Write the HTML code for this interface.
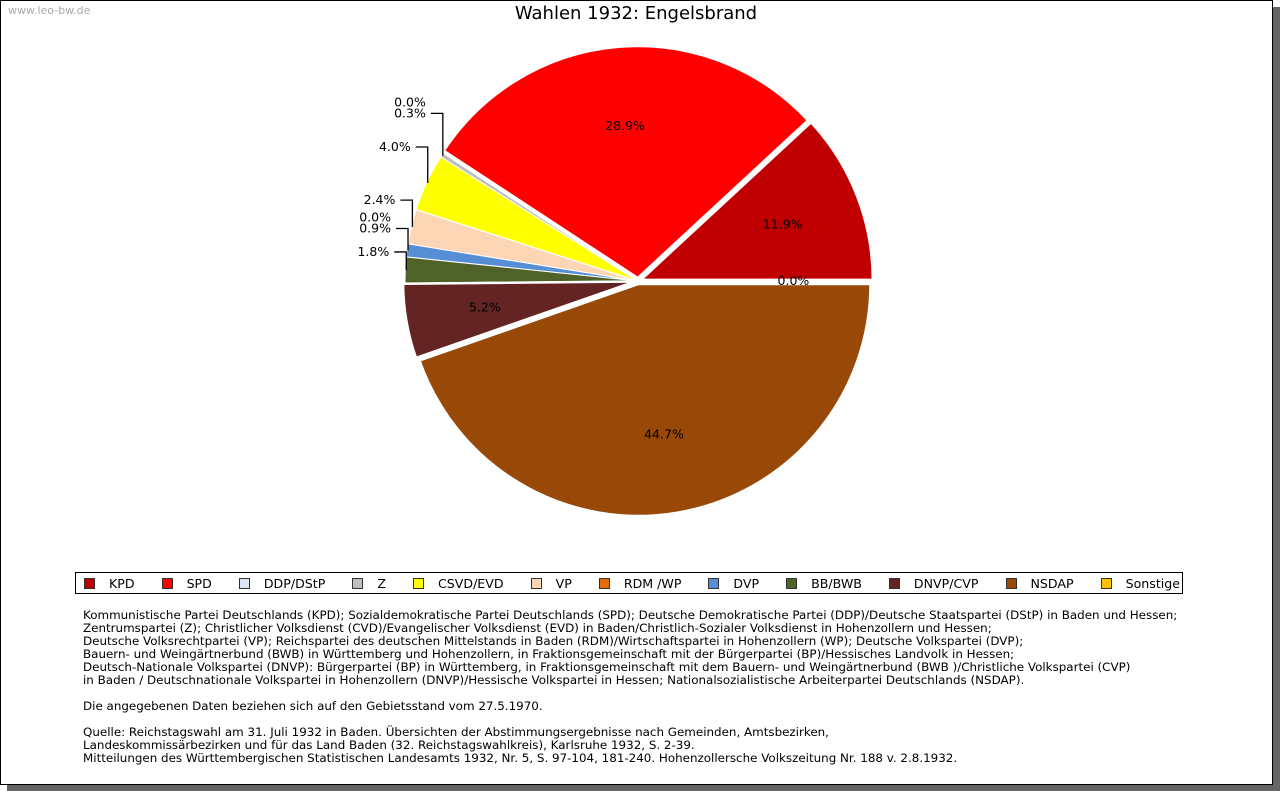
<!DOCTYPE html>
<html><head><meta charset="utf-8"><style>
body{margin:0;background:#fff;width:1280px;height:791px;position:relative;font-family:"DejaVu Sans","Liberation Sans",sans-serif;overflow:hidden}
#frame{position:absolute;left:0;top:0;width:1271px;height:783px;border:1px solid #000;background:#fff;box-shadow:7px 7px 0 #666}
#wm{position:absolute;left:8px;top:4px;font-size:11px;color:#aaa}
#title{position:absolute;left:0;width:1272px;top:3px;text-align:center;font-size:18px;color:#000}
#legend{position:absolute;left:75px;top:572px;width:1108px;height:22px;border:1px solid #000;display:flex;align-items:center;font-size:12.6px;padding-left:8px;box-sizing:border-box;white-space:nowrap}
.li{display:flex;align-items:center;margin-right:27px}
.sq{width:9px;height:9px;border:1px solid #333;margin-right:14px}
#notes{position:absolute;left:83px;top:609px;font-size:11.9px;line-height:13px;color:#000;white-space:pre}
svg text{font-family:"DejaVu Sans","Liberation Sans",sans-serif;font-size:12.5px}
</style></head><body>
<div id="frame"></div>
<div id="wm">www.leo-bw.de</div>
<div id="title">Wahlen 1932: Engelsbrand</div>
<svg id="pie" width="1280" height="560" style="position:absolute;left:0;top:0"></svg>
<div id="legend"></div>
<div id="notes">Kommunistische Partei Deutschlands (KPD); Sozialdemokratische Partei Deutschlands (SPD); Deutsche Demokratische Partei (DDP)/Deutsche Staatspartei (DStP) in Baden und Hessen;
Zentrumspartei (Z); Christlicher Volksdienst (CVD)/Evangelischer Volksdienst (EVD) in Baden/Christlich-Sozialer Volksdienst in Hohenzollern und Hessen;
Deutsche Volksrechtpartei (VP); Reichspartei des deutschen Mittelstands in Baden (RDM)/Wirtschaftspartei in Hohenzollern (WP); Deutsche Volkspartei (DVP);
Bauern- und Weingärtnerbund (BWB) in Württemberg und Hohenzollern, in Fraktionsgemeinschaft mit der Bürgerpartei (BP)/Hessisches Landvolk in Hessen;
Deutsch-Nationale Volkspartei (DNVP): Bürgerpartei (BP) in Württemberg, in Fraktionsgemeinschaft mit dem Bauern- und Weingärtnerbund (BWB )/Christliche Volkspartei (CVP)
in Baden / Deutschnationale Volkspartei in Hohenzollern (DNVP)/Hessische Volkspartei in Hessen; Nationalsozialistische Arbeiterpartei Deutschlands (NSDAP).

Die angegebenen Daten beziehen sich auf den Gebietsstand vom 27.5.1970.

Quelle: Reichstagswahl am 31. Juli 1932 in Baden. Übersichten der Abstimmungsergebnisse nach Gemeinden, Amtsbezirken,
Landeskommissärbezirken und für das Land Baden (32. Reichstagswahlkreis), Karlsruhe 1932, S. 2-39.
Mitteilungen des Württembergischen Statistischen Landesamts 1932, Nr. 5, S. 97-104, 181-240. Hohenzollersche Volkszeitung Nr. 188 v. 2.8.1932.</div>
<script>
const parties=["KPD","SPD","DDP/DStP","Z","CSVD/EVD","VP","RDM /WP","DVP","BB/BWB","DNVP/CVP","NSDAP","Sonstige"];
const values=[11.9,28.9,0.0,0.3,4.0,2.4,0.0,0.9,1.8,5.2,44.7,0.0];
const colors=["#c00000","#ff0000","#dce6f2","#bfbfbf","#ffff00","#fcd5b5","#e46c0a","#558ed5","#4f6228","#632423","#984807","#ffc000"];
const NS="http://www.w3.org/2000/svg";
const svg=document.getElementById('pie');
const cx=638,cy=281,R=232;
const total=values.reduce((a,b)=>a+b,0);
function pt(a,r,ox,oy){const t=a*Math.PI/180;return [cx+ox+r*Math.cos(t),cy+oy-r*Math.sin(t)];}
function mk(tag,attrs){const e=document.createElementNS(NS,tag);for(const k in attrs)e.setAttribute(k,attrs[k]);svg.appendChild(e);return e;}
let acc=0;
values.forEach((v,i)=>{
  const a0=acc/total*360,a1=(acc+v)/total*360;acc+=v;
  const mid=(a0+a1)/2;
  const off=v>=5?3:1;
  const ox=off*Math.cos(mid*Math.PI/180),oy=-off*Math.sin(mid*Math.PI/180);
  if(v>0){
    const p0=pt(a0,R,ox,oy),p1=pt(a1,R,ox,oy);
    const large=(a1-a0)>180?1:0;
    const p=mk('path',{d:`M${cx+ox},${cy+oy} L${p0[0]},${p0[1]} A${R},${R} 0 ${large} 0 ${p1[0]},${p1[1]} Z`,fill:colors[i],stroke:'#fff','stroke-width':v>=5?2.5:1,'stroke-linejoin':'round'});
    
    
  }
  const lbl=v.toFixed(1)+'%';
  if(v>=5||(v===0&&(i===11))){
    const q=pt(mid,R*0.67,0,0);
    const t=mk('text',{x:q[0],y:q[1]+4,'text-anchor':'middle'});
    t.textContent=lbl;
    
    
  } else if(v>0){
    const q=pt(mid,R,0,0);
    const ly=q[1]-(16+(180-mid)*0.8);
    mk('path',{d:`M${q[0]-12},${ly} H${q[0]} V${q[1]}`,fill:'none',stroke:'#000','stroke-width':1.3});
    const t=mk('text',{x:q[0]-17,y:ly+4,'text-anchor':'end'});
    t.textContent=lbl;
    
    
    if(i>0&&values[i-1]===0&&i-1!==0){
      const t2=mk('text',{x:q[0]-17,y:ly-7,'text-anchor':'end'});
      t2.textContent=values[i-1].toFixed(1)+'%';
      
      
    }
  }
});
const lg=document.getElementById('legend');
parties.forEach((p,i)=>{
  const d=document.createElement('div');d.className='li';
  
  
  d.innerHTML=`<div class="sq" style="background:${colors[i]}"></div><span>${p}</span>`;
  lg.appendChild(d);
});
</script>
</body></html>
